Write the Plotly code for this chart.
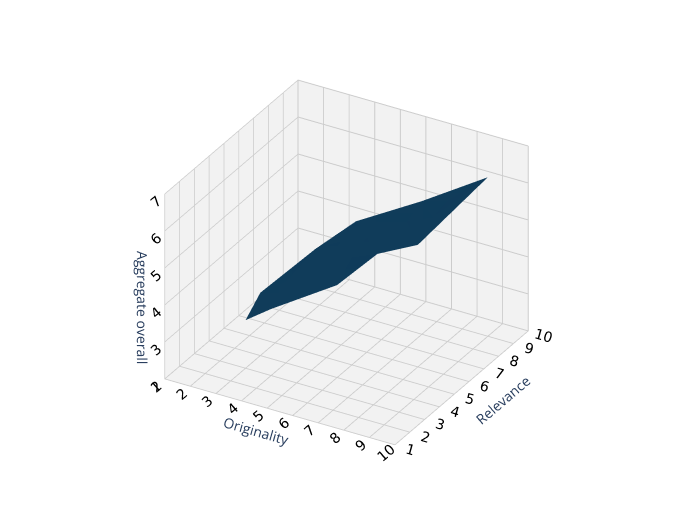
import plotly.graph_objects as go

originality = [3, 3, 4, 4, 4, 5, 5, 6, 6, 6, 7, 7, 8, 8, 8, 9, 5, 7]
relevance   = [3, 4, 3, 4, 6, 5, 6, 4, 5, 6, 7, 8, 6, 7, 8, 9, 7, 5]
aggregate   = [3.3, 3.7, 3.8, 4.2, 4.4, 4.6, 4.8, 4.5, 4.9, 5.1, 5.4, 5.6, 5.3, 5.7, 5.8, 6.3, 5.0, 5.2]

fig = go.Figure(go.Mesh3d(
    x=originality, y=relevance, z=aggregate, delaunayaxis='z',
    color='#1f77b4', flatshading=True,
    lighting=dict(ambient=0.5, diffuse=0.8, specular=0.1),
    lightposition=dict(x=-1000, y=-1000, z=300)))

ax = dict(backgroundcolor='#f2f2f2', showbackground=True, gridcolor='#cccccc',
          tickfont=dict(size=13, family='DejaVu Sans', color='black'),
          title_font=dict(size=15, family='DejaVu Sans', color='black'))
fig.update_layout(
    width=677, height=532, margin=dict(l=0, r=0, t=0, b=0),
    paper_bgcolor='white',
    scene=dict(
        xaxis=dict(ax, title='Originality', range=[1, 10], dtick=1),
        yaxis=dict(ax, title='Relevance', range=[1, 10], dtick=1),
        zaxis=dict(ax, title='Aggregate overall', range=[2, 7], dtick=1),
        aspectmode='manual', aspectratio=dict(x=1, y=1, z=0.8),
        camera=dict(eye=dict(x=1.1, y=-1.9, z=1.2),
                    center=dict(x=0, y=0, z=-0.05),
                    projection=dict(type='orthographic'))))
fig.write_html("out.html")
